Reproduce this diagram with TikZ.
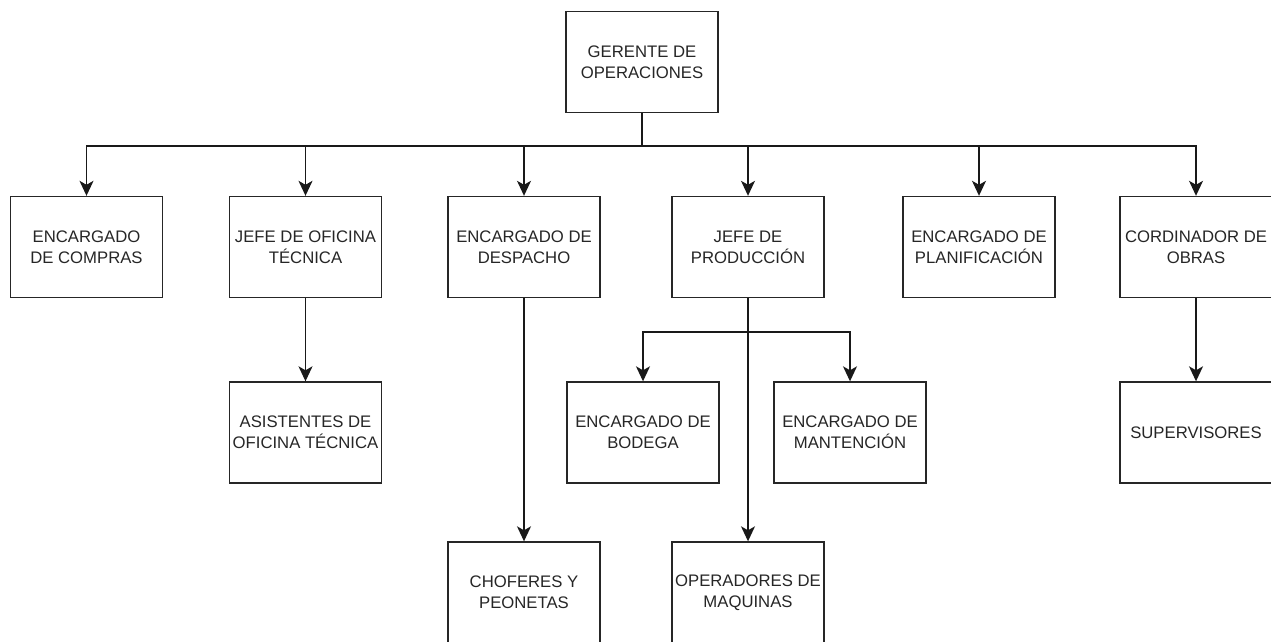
\documentclass[tikz,border=0pt]{standalone}
\usepackage{fontspec}
\setmainfont{Liberation Sans}
\usepackage{tikz}
\usetikzlibrary{arrows.meta,positioning}

\begin{document}
\begin{tikzpicture}[
    x=1pt, y=-1pt,
    puesto/.style={rectangle, draw=black!85, line width=1.4pt, minimum width=152pt, minimum height=101pt, inner sep=0pt, align=center, text=black!85, font=\fontsize{16.7}{20.7}\selectfont},
    line/.style={draw=black!90, line width=1.4pt, -{Stealth[length=15pt, width=14pt, inset=4pt]}},
    tramo/.style={draw=black!90, line width=1.4pt}
]
    \useasboundingbox (0,0) rectangle (1271,641);

    % --- Nivel 0 ---
    \node [puesto] (gerente) at (642,62) {GERENTE DE\\OPERACIONES};

    % --- Nivel 1 ---
    \node [puesto] (compras) at (86.5,247) {ENCARGADO\\DE COMPRAS};
    \node [puesto] (oficina) at (305.5,247) {JEFE DE OFICINA\\TÉCNICA};
    \node [puesto] (despacho) at (524,247) {ENCARGADO DE\\DESPACHO};
    \node [puesto] (produccion) at (748,247) {JEFE DE\\PRODUCCIÓN};
    \node [puesto] (planificacion) at (979,247) {ENCARGADO DE\\PLANIFICACIÓN};
    \node [puesto] (obras) at (1196,247) {CORDINADOR DE\\OBRAS};

    % --- Nivel 2 ---
    \node [puesto] (asistentes) at (305.5,432.5) {ASISTENTES DE\\OFICINA TÉCNICA};
    \node [puesto] (bodega) at (643,432.5) {ENCARGADO DE\\BODEGA};
    \node [puesto] (mantencion) at (850,432.5) {ENCARGADO DE\\MANTENCIÓN};
    \node [puesto] (supervisores) at (1196,432.5) {SUPERVISORES};

    % --- Nivel 3 ---
    \node [puesto] (choferes) at (524,592.5) {CHOFERES Y\\PEONETAS};
    \node [puesto] (operadores) at (748,592.5) {OPERADORES DE\\MAQUINAS};

    % Conexiones
    \coordinate (bus) at (642,146);
    \coordinate (split) at (748,332);
    \path [tramo] (gerente) -- (bus);
    \foreach \n in {compras,oficina,despacho,produccion,planificacion,obras}
        \path [line] (bus) -| (\n);
    \path [line] (oficina) -- (asistentes);
    \path [line] (obras) -- (supervisores);
    \path [line] (despacho) -- (choferes);
    \path [line] (produccion) -- (operadores);
    \path [line] (split) -| (bodega);
    \path [line] (split) -| (mantencion);

\end{tikzpicture}
\end{document}
